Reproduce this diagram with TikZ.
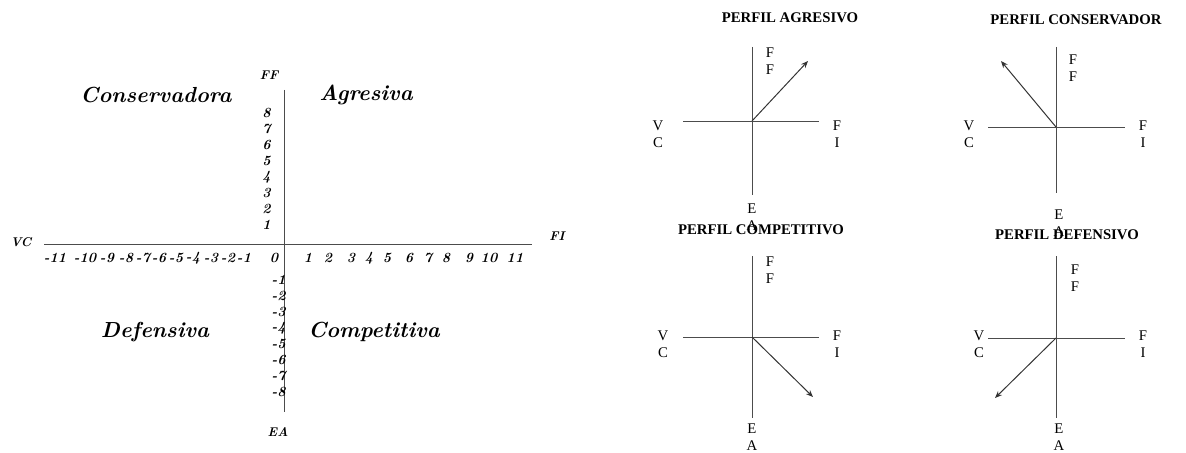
\documentclass[tikz,border=0pt]{standalone}
\usepackage{fontspec}
\newfontfamily\timesfont{Liberation Serif}
\usetikzlibrary{arrows.meta}

\begin{document}
\begin{tikzpicture}[x=0.025cm, y=-0.025cm,
    ax/.style={draw=black!70, line width=0.7pt},
    vec/.style={draw=black!80, line width=0.7pt, -{Stealth[length=5pt,width=4pt]}},
    zone/.style={font=\fontsize{15.5}{17}\selectfont\bfseries\itshape, inner sep=0pt},
    num/.style={font=\fontsize{10}{11}\selectfont\bfseries\itshape, inner sep=0pt},
    axlbl/.style={font=\fontsize{9}{10}\selectfont\bfseries\itshape, inner sep=0pt},
    ptitle/.style={font=\timesfont\fontsize{10.5}{12}\selectfont\bfseries, inner sep=0pt},
    plbl/.style={font=\timesfont\fontsize{10.5}{12}\selectfont, align=center, inner sep=0pt}
]
\useasboundingbox (0,0) rectangle (1186,453);

\coordinate (mO) at (284,244);
\coordinate (mW) at (44,244);
\coordinate (mE) at (532,244);
\coordinate (mN) at (284,90);
\coordinate (mS) at (284,412);
\draw[ax] (mW) -- (mE);
\draw[ax] (mN) -- (mS);

\node[axlbl] (mFF) at (269,75) {FF};
\node[axlbl] (mFI) at (557,236) {FI};
\node[axlbl] (mVC) at (21,242) {VC};
\node[axlbl] (mEA) at (278,432) {EA};

\node[zone] (cons) at (156,95) {Conservadora};
\node[zone] (agre) at (366,95) {Agresiva};
\node[zone] (defe) at (155,332) {Defensiva};
\node[zone] (comp) at (374,332) {Competitiva};

\foreach \n in {1,...,8} {
    \node[num, anchor=east] (vp\n) at (271,{241-16*\n}) {\n};
    \node[num, anchor=east] (vm\n) at (286,{264+16*\n}) {-\n};
}
\node[num] (h0) at (274,258) {0};
\foreach \x [count=\i] in {308,328,351,369,387,409,428,446,469,489,515}
    \node[num] (hp\i) at (\x,258) {\i};
\foreach \x [count=\i] in {244,228,211,193,176,159,143,126,107,85,55}
    \node[num] (hm\i) at (\x,258) {-\i};

\coordinate (agO) at (752,121);
\coordinate (agW) at (683,121);
\coordinate (agE) at (819,121);
\coordinate (agN) at (752,47);
\coordinate (agS) at (752,195);
\coordinate (agV) at (808,61);
\draw[ax] (agW) -- (agE);
\draw[ax] (agN) -- (agS);
\draw[vec] (agO) -- (agV);
\node[ptitle] (agT) at (790,18) {PERFIL AGRESIVO};
\node[plbl] (agFF) at (770,61) {F\\F};
\node[plbl] (agVC) at (658,134) {V\\C};
\node[plbl] (agFI) at (837,134) {F\\I};
\node[plbl] (agEA) at (752,217) {E\\A};

\coordinate (coO) at (1056,127);
\coordinate (coW) at (988,127);
\coordinate (coE) at (1125,127);
\coordinate (coN) at (1056,47);
\coordinate (coS) at (1056,193);
\coordinate (coV) at (1001,61);
\draw[ax] (coW) -- (coE);
\draw[ax] (coN) -- (coS);
\draw[vec] (coO) -- (coV);
\node[ptitle] (coT) at (1076,20) {PERFIL CONSERVADOR};
\node[plbl] (coFF) at (1073,68) {F\\F};
\node[plbl] (coVC) at (969,134) {V\\C};
\node[plbl] (coFI) at (1143,134) {F\\I};
\node[plbl] (coEA) at (1059,223) {E\\A};

\coordinate (cpO) at (752,337);
\coordinate (cpW) at (683,337);
\coordinate (cpE) at (819,337);
\coordinate (cpN) at (752,256);
\coordinate (cpS) at (752,418);
\coordinate (cpV) at (813,397);
\draw[ax] (cpW) -- (cpE);
\draw[ax] (cpN) -- (cpS);
\draw[vec] (cpO) -- (cpV);
\node[ptitle] (cpT) at (761,230) {PERFIL COMPETITIVO};
\node[plbl] (cpFF) at (770,270) {F\\F};
\node[plbl] (cpVC) at (663,344) {V\\C};
\node[plbl] (cpFI) at (837,344) {F\\I};
\node[plbl] (cpEA) at (752,437) {E\\A};

\coordinate (dfO) at (1056,338);
\coordinate (dfW) at (988,338);
\coordinate (dfE) at (1125,338);
\coordinate (dfN) at (1056,256);
\coordinate (dfS) at (1056,418);
\coordinate (dfV) at (995,398);
\draw[ax] (dfW) -- (dfE);
\draw[ax] (dfN) -- (dfS);
\draw[vec] (dfO) -- (dfV);
\node[ptitle] (dfT) at (1067,235) {PERFIL DEFENSIVO};
\node[plbl] (dfFF) at (1075,278) {F\\F};
\node[plbl] (dfVC) at (979,344) {V\\C};
\node[plbl] (dfFI) at (1143,344) {F\\I};
\node[plbl] (dfEA) at (1059,437) {E\\A};
\end{tikzpicture}
\end{document}
